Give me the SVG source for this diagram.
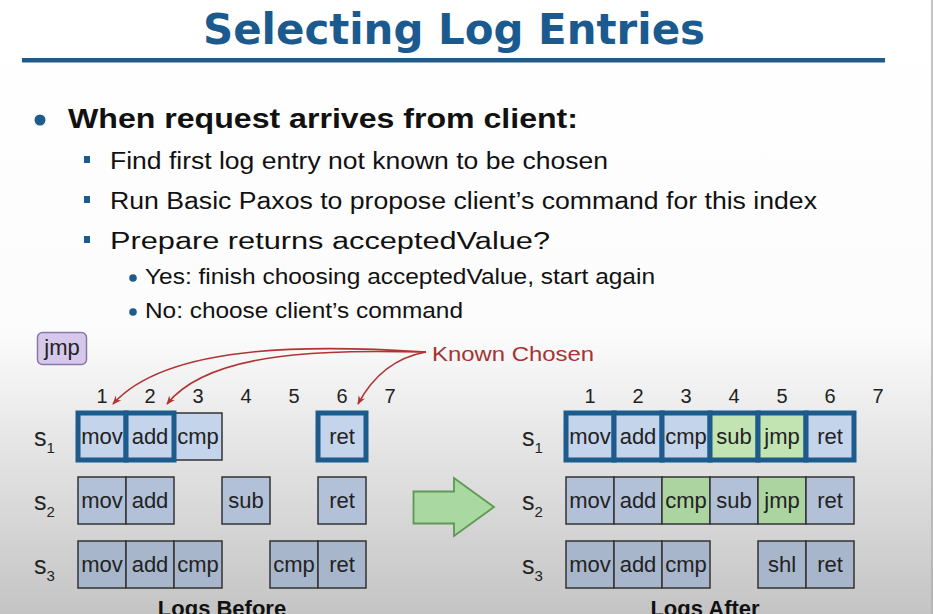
<svg xmlns="http://www.w3.org/2000/svg" width="933" height="614" viewBox="0 0 933 614">
<defs>
<linearGradient id="bg" x1="0" y1="0" x2="0" y2="614" gradientUnits="userSpaceOnUse">
<stop offset="0" stop-color="#ffffff"/>
<stop offset="0.54" stop-color="#fcfcfc"/>
<stop offset="0.7" stop-color="#e8e8e8"/>
<stop offset="1" stop-color="#c4c4c4"/>
</linearGradient>
<marker id="ah" viewBox="0 0 10 10" refX="9" refY="5" markerWidth="9" markerHeight="9" markerUnits="userSpaceOnUse" orient="auto">
<path d="M0,1 L10,5 L0,9 L3,5 Z" fill="#b03434"/>
</marker>
</defs>
<style>
.t{font-family:"Liberation Sans",Arial,sans-serif;fill:#111}
.c{font-family:"Liberation Sans",Arial,sans-serif;font-size:22px;fill:#222;text-anchor:middle}
.n{font-family:"Liberation Sans",Arial,sans-serif;font-size:20px;fill:#222;text-anchor:middle}
.s{font-family:"Liberation Sans",Arial,sans-serif;font-size:25px;fill:#222}
.sub{font-size:15px}
.b1{fill:#c4d4ea;stroke:#333;stroke-width:1.5}
.b2{fill:#b2c1d8;stroke:#333;stroke-width:1.5}
.b3{fill:#a8b6cc;stroke:#333;stroke-width:1.5}
.g1{fill:#c2e4b2}
.g2{fill:#acd4a0;stroke:#333;stroke-width:1.5}
.ch{stroke:#1c5b8c;stroke-width:5}
.cur{fill:none;stroke:#b03434;stroke-width:1.6;marker-end:url(#ah)}
.blue{fill:#1c5b8c}
</style>
<rect width="933" height="614" fill="url(#bg)"/>
<line x1="932" y1="0" x2="932" y2="614" stroke="#b0b0b0" stroke-width="1.5"/>

<g id="title">
<text x="454" y="44" text-anchor="middle" font-family="DejaVu Sans,Verdana,sans-serif" font-weight="bold" font-size="42" fill="#1b5a8e" textLength="502" lengthAdjust="spacingAndGlyphs">Selecting Log Entries</text>
<rect x="22" y="58" width="863" height="4.5" class="blue"/>
</g>

<g id="bullets">
<circle cx="40" cy="120" r="5.5" class="blue"/>
<text class="t" x="68" y="128" font-size="28" font-weight="bold" textLength="510" lengthAdjust="spacingAndGlyphs">When request arrives from client:</text>
<rect x="84" y="156" width="6" height="7" class="blue"/>
<text class="t" x="110" y="169" font-size="23" textLength="498" lengthAdjust="spacingAndGlyphs">Find first log entry not known to be chosen</text>
<rect x="84" y="196" width="6" height="7" class="blue"/>
<text class="t" x="110" y="209" font-size="23" textLength="707" lengthAdjust="spacingAndGlyphs">Run Basic Paxos to propose client’s command for this index</text>
<rect x="84" y="236" width="6" height="7" class="blue"/>
<text class="t" x="110" y="249" font-size="23" textLength="440" lengthAdjust="spacingAndGlyphs">Prepare returns acceptedValue?</text>
<circle cx="133" cy="278" r="3.8" class="blue"/>
<text class="t" x="145" y="284" font-size="22" textLength="510" lengthAdjust="spacingAndGlyphs">Yes: finish choosing acceptedValue, start again</text>
<circle cx="133" cy="312" r="3.8" class="blue"/>
<text class="t" x="145" y="318" font-size="22" textLength="318" lengthAdjust="spacingAndGlyphs">No: choose client’s command</text>
</g>

<g id="jmp-client">
<rect x="37.5" y="332.5" width="49" height="32" rx="5" fill="#d6c8ea" stroke="#8878a8" stroke-width="1.5"/>
<text class="c" x="62" y="355" font-size="20">jmp</text>
</g>

<g id="known-chosen">
<text x="432" y="361" font-family="Liberation Sans,Arial,sans-serif" font-size="21" fill="#a83232" textLength="162" lengthAdjust="spacingAndGlyphs">Known Chosen</text>
</g>

<g id="connectors">
<path class="cur" d="M426,352 C330,346 170,340 113,404"/>
<path class="cur" d="M426,352 C330,350 210,350 167,404"/>
<path class="cur" d="M426,352 C398,357 374,374 358,404"/>
<g id="green-arrow">
<path d="M413.5,491.5 L454,491.5 L454,478 L494,507 L454,536 L454,523.5 L413.5,523.5 Z" fill="#a9d8a0" stroke="#5c9a52" stroke-width="1.8"/>
</g>
</g>

<g id="logs-before">
<g id="before-index">
<text class="n" x="102" y="403">1</text><text class="n" x="150" y="403">2</text><text class="n" x="198" y="403">3</text><text class="n" x="246" y="403">4</text><text class="n" x="294" y="403">5</text><text class="n" x="342" y="403">6</text><text class="n" x="390" y="403">7</text>
</g>
<g id="before-s1">
<text class="s" x="34" y="446">s<tspan class="sub" dy="7">1</tspan></text>
<rect x="174" y="413" width="48" height="47" class="b1"/>
<rect x="78" y="413" width="48" height="47" class="b1 ch"/>
<rect x="126" y="413" width="48" height="47" class="b1 ch"/>
<rect x="318" y="413" width="48" height="47" class="b1 ch"/>
<text class="c" x="102" y="444">mov</text><text class="c" x="150" y="444">add</text><text class="c" x="198" y="444">cmp</text><text class="c" x="342" y="444">ret</text>
</g>
<g id="before-s2">
<text class="s" x="34" y="510">s<tspan class="sub" dy="7">2</tspan></text>
<rect x="78" y="477" width="48" height="47" class="b2"/>
<rect x="126" y="477" width="48" height="47" class="b2"/>
<rect x="222" y="477" width="48" height="47" class="b2"/>
<rect x="318" y="477" width="48" height="47" class="b2"/>
<text class="c" x="102" y="508">mov</text><text class="c" x="150" y="508">add</text><text class="c" x="246" y="508">sub</text><text class="c" x="342" y="508">ret</text>
</g>
<g id="before-s3">
<text class="s" x="34" y="574">s<tspan class="sub" dy="7">3</tspan></text>
<rect x="78" y="541" width="48" height="47" class="b3"/>
<rect x="126" y="541" width="48" height="47" class="b3"/>
<rect x="174" y="541" width="48" height="47" class="b3"/>
<rect x="270" y="541" width="48" height="47" class="b3"/>
<rect x="318" y="541" width="48" height="47" class="b3"/>
<text class="c" x="102" y="572">mov</text><text class="c" x="150" y="572">add</text><text class="c" x="198" y="572">cmp</text><text class="c" x="294" y="572">cmp</text><text class="c" x="342" y="572">ret</text>
</g>
<text x="222" y="616" text-anchor="middle" font-family="Liberation Sans,Arial,sans-serif" font-weight="bold" font-size="22" fill="#111">Logs Before</text>
</g>

<g id="logs-after">
<g id="after-index">
<text class="n" x="590" y="403">1</text><text class="n" x="638" y="403">2</text><text class="n" x="686" y="403">3</text><text class="n" x="734" y="403">4</text><text class="n" x="782" y="403">5</text><text class="n" x="830" y="403">6</text><text class="n" x="878" y="403">7</text>
</g>
<g id="after-s1">
<text class="s" x="522" y="446">s<tspan class="sub" dy="7">1</tspan></text>
<rect x="566" y="413" width="48" height="47" class="b1 ch"/>
<rect x="614" y="413" width="48" height="47" class="b1 ch"/>
<rect x="662" y="413" width="48" height="47" class="b1 ch"/>
<rect x="710" y="413" width="48" height="47" class="b1 g1 ch"/>
<rect x="758" y="413" width="48" height="47" class="b1 g1 ch"/>
<rect x="806" y="413" width="48" height="47" class="b1 ch"/>
<text class="c" x="590" y="444">mov</text><text class="c" x="638" y="444">add</text><text class="c" x="686" y="444">cmp</text><text class="c" x="734" y="444">sub</text><text class="c" x="782" y="444">jmp</text><text class="c" x="830" y="444">ret</text>
</g>
<g id="after-s2">
<text class="s" x="522" y="510">s<tspan class="sub" dy="7">2</tspan></text>
<rect x="566" y="477" width="48" height="47" class="b2"/>
<rect x="614" y="477" width="48" height="47" class="b2"/>
<rect x="662" y="477" width="48" height="47" class="g2"/>
<rect x="710" y="477" width="48" height="47" class="b2"/>
<rect x="758" y="477" width="48" height="47" class="g2"/>
<rect x="806" y="477" width="48" height="47" class="b2"/>
<text class="c" x="590" y="508">mov</text><text class="c" x="638" y="508">add</text><text class="c" x="686" y="508">cmp</text><text class="c" x="734" y="508">sub</text><text class="c" x="782" y="508">jmp</text><text class="c" x="830" y="508">ret</text>
</g>
<g id="after-s3">
<text class="s" x="522" y="574">s<tspan class="sub" dy="7">3</tspan></text>
<rect x="566" y="541" width="48" height="47" class="b3"/>
<rect x="614" y="541" width="48" height="47" class="b3"/>
<rect x="662" y="541" width="48" height="47" class="b3"/>
<rect x="758" y="541" width="48" height="47" class="b3"/>
<rect x="806" y="541" width="48" height="47" class="b3"/>
<text class="c" x="590" y="572">mov</text><text class="c" x="638" y="572">add</text><text class="c" x="686" y="572">cmp</text><text class="c" x="782" y="572">shl</text><text class="c" x="830" y="572">ret</text>
</g>
<text x="705" y="616" text-anchor="middle" font-family="Liberation Sans,Arial,sans-serif" font-weight="bold" font-size="22" fill="#111">Logs After</text>
</g>
</svg>
